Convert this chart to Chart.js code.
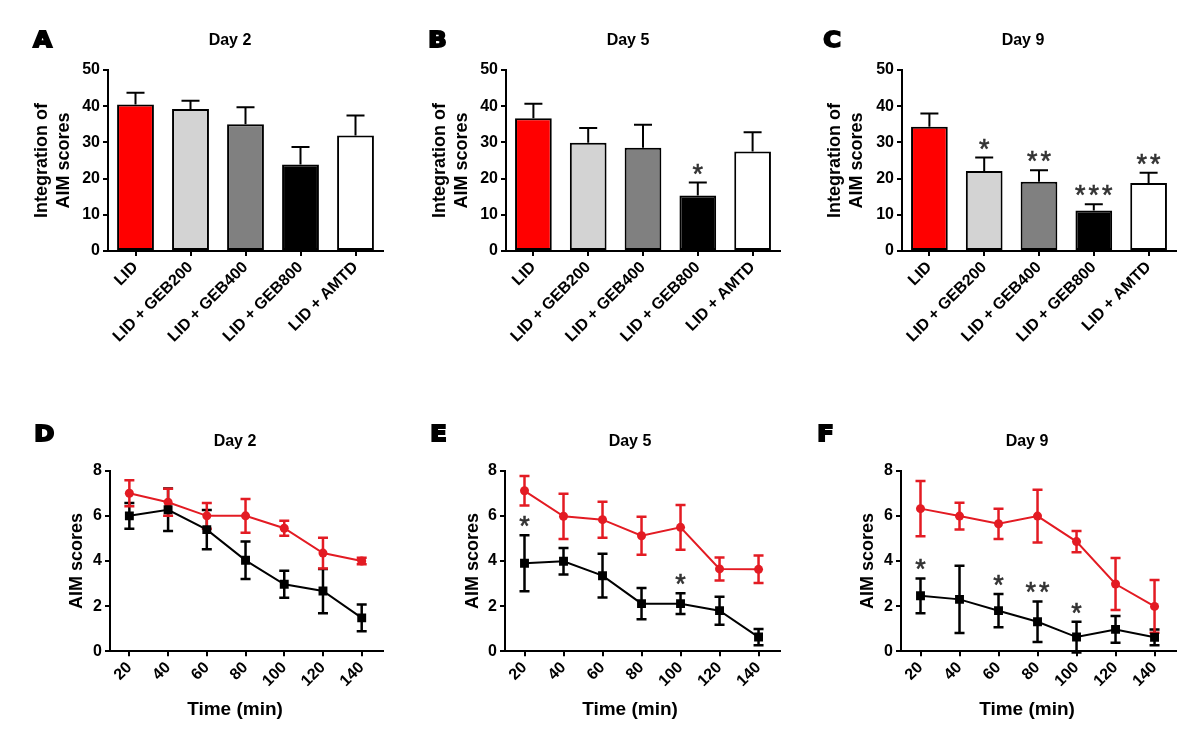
<!DOCTYPE html>
<html>
<head>
<meta charset="utf-8">
<title>AIM scores</title>
<script src="https://cdn.jsdelivr.net/npm/chart.js@4.4.1/dist/chart.umd.min.js"></script>
<style>
body { margin: 0; background: #fff; }
#wrap { position: relative; width: 1200px; height: 749px; overflow: hidden; background: #fff; }
canvas { position: absolute; }
</style>
</head>
<body>
<div id="wrap">
  <canvas id="panelA" width="400" height="380" style="left:0px;top:0px"></canvas>
  <canvas id="panelB" width="400" height="380" style="left:400px;top:0px"></canvas>
  <canvas id="panelC" width="400" height="380" style="left:800px;top:0px"></canvas>
  <canvas id="panelD" width="400" height="349" style="left:0px;top:400px"></canvas>
  <canvas id="panelE" width="400" height="349" style="left:400px;top:400px"></canvas>
  <canvas id="panelF" width="400" height="349" style="left:800px;top:400px"></canvas>
</div>
<script>
// Grupos de tratamiento (paneles A-C)
var groups = ['LID', 'LID + GEB200', 'LID + GEB400', 'LID + GEB800', 'LID + AMTD'];
var barColors = ['#ff0000', '#d3d3d3', '#808080', '#000000', '#ffffff'];

// Integración de AIM scores: media y error
var day2Means = [40.5, 39.2, 35.0, 23.9, 31.9];
var day2Sem   = [3.2, 2.3, 4.7, 4.8, 5.5];
var day2Stars = ['', '', '', '', ''];

var day5Means = [36.7, 29.9, 28.5, 15.3, 27.5];
var day5Sem   = [4.0, 4.1, 6.4, 3.6, 5.3];
var day5Stars = ['', '', '', '*', ''];

var day9Means = [34.3, 22.1, 19.1, 11.2, 18.8];
var day9Sem   = [3.7, 3.7, 3.2, 1.7, 2.8];
var day9Stars = ['', '*', '**', '***', '**'];

var barTicks = [0, 10, 20, 30, 40, 50];

// Curso temporal (paneles D-F)
var times = [20, 40, 60, 80, 100, 120, 140];
var lineTicksY = [0, 2, 4, 6, 8];

var d2Lid    = [7.0, 6.6, 6.0, 6.0, 5.45, 4.35, 4.0];
var d2LidSem = [0.58, 0.6, 0.57, 0.75, 0.33, 0.68, 0.14];
var d2Geb    = [6.0, 6.27, 5.39, 4.03, 2.97, 2.67, 1.48];
var d2GebSem = [0.57, 0.94, 0.87, 0.83, 0.6, 0.98, 0.59];
var d2Stars  = ['', '', '', '', '', '', ''];

var d5Lid    = [7.11, 5.98, 5.83, 5.12, 5.49, 3.65, 3.63];
var d5LidSem = [0.65, 1.0, 0.8, 0.84, 0.99, 0.51, 0.61];
var d5Geb    = [3.9, 3.99, 3.35, 2.11, 2.11, 1.8, 0.63];
var d5GebSem = [1.24, 0.59, 0.97, 0.69, 0.46, 0.62, 0.36];
var d5Stars  = ['*', '', '', '', '*', '', ''];

var d9Lid    = [6.32, 5.99, 5.65, 5.99, 4.86, 2.98, 1.99];
var d9LidSem = [1.22, 0.59, 0.67, 1.17, 0.47, 1.15, 1.17];
var d9Geb    = [2.46, 2.3, 1.8, 1.31, 0.63, 0.97, 0.62];
var d9GebSem = [0.77, 1.49, 0.74, 0.9, 0.68, 0.59, 0.35];
var d9Stars  = ['*', '', '*', '**', '*', '', ''];

var RED = '#e31b23';
var FONT = "'Liberation Sans', Arial, sans-serif";
Chart.defaults.font.family = FONT;
Chart.defaults.color = '#000';

// Barras de error (media + SEM); en barras solo hacia arriba
function drawErrors(chart, upOnly) {
  var y = chart.scales.y;
  var ctx = chart.ctx;
  chart.data.datasets.forEach(function(ds, i) {
    if (!ds.sem) return;
    var meta = chart.getDatasetMeta(i);
    ctx.save();
    ctx.strokeStyle = ds.errColor;
    ctx.lineWidth = ds.errWidth;
    meta.data.forEach(function(el, j) {
      var v = ds.data[j];
      if (typeof v === 'object') v = v.y;
      var top = y.getPixelForValue(v + ds.sem[j]);
      var bot = upOnly ? el.y : y.getPixelForValue(v - ds.sem[j]);
      var hw = ds.capHalf;
      ctx.beginPath();
      ctx.moveTo(el.x, top); ctx.lineTo(el.x, bot);
      ctx.moveTo(el.x - hw, top); ctx.lineTo(el.x + hw, top);
      if (!upOnly) { ctx.moveTo(el.x - hw, bot); ctx.lineTo(el.x + hw, bot); }
      ctx.stroke();
    });
    ctx.restore();
  });
}

// Asteriscos de significancia encima del error
function drawStars(chart) {
  var y = chart.scales.y;
  var ctx = chart.ctx;
  ctx.save();
  ctx.font = '27px ' + FONT;
  ctx.fillStyle = '#333';
  ctx.strokeStyle = '#333';
  ctx.lineWidth = 0.6;
  ctx.textAlign = 'center';
  ctx.textBaseline = 'alphabetic';
  var m = ctx.measureText('*');
  var mid = (m.actualBoundingBoxAscent - m.actualBoundingBoxDescent) / 2;
  chart.data.datasets.forEach(function(ds, i) {
    if (!ds.stars) return;
    var meta = chart.getDatasetMeta(i);
    meta.data.forEach(function(el, j) {
      var s = ds.stars[j];
      if (!s) return;
      var v = ds.data[j];
      if (typeof v === 'object') v = v.y;
      var cy = y.getPixelForValue(v + ds.sem[j]) - 14;
      for (var k = 0; k < s.length; k++) {
        var cx = el.x + (k - (s.length - 1) / 2) * 13.5;
        ctx.fillText('*', cx, cy + mid);
        ctx.strokeText('*', cx, cy + mid);
      }
    });
  });
  ctx.restore();
}

var errorPlugin = {
  id: 'errorBars',
  beforeDatasetsDraw: function(chart) {
    if (chart.config.type === 'line') drawErrors(chart, false);
  },
  afterDatasetsDraw: function(chart) {
    if (chart.config.type === 'bar') drawErrors(chart, true);
    drawStars(chart);
  }
};

// Letra del panel, título del día y título del eje x
var panelPlugin = {
  id: 'panelText',
  afterDraw: function(chart, args, opts) {
    var ctx = chart.ctx;
    ctx.save();
    ctx.fillStyle = '#000';
    ctx.strokeStyle = '#000';
    // letra
    ctx.save();
    ctx.translate(opts.letterX, opts.letterY);
    ctx.scale(1.15, 1);
    ctx.font = "bold 21px 'DejaVu Sans', sans-serif";
    ctx.textAlign = 'left';
    ctx.textBaseline = 'alphabetic';
    ctx.lineWidth = 1.8;
    ctx.lineJoin = 'miter';
    ctx.fillText(opts.letter, 1, 0);
    ctx.strokeText(opts.letter, 1, 0);
    ctx.restore();
    // título
    ctx.font = 'bold 16px ' + FONT;
    ctx.textAlign = 'center';
    ctx.textBaseline = 'alphabetic';
    ctx.fillText(opts.title, opts.titleX, opts.titleY);
    if (opts.xTitle) {
      ctx.font = 'bold 19px ' + FONT;
      ctx.textBaseline = 'middle';
      ctx.fillText(opts.xTitle, opts.xTitleX, opts.xTitleY);
    }
    ctx.restore();
  }
};

function axisGrid() {
  return { drawOnChartArea: false, drawTicks: true, tickLength: 5, color: '#000', lineWidth: 2 };
}

function barPanel(id, means, sem, stars, box) {
  var lh = 22.5;
  return new Chart(document.getElementById(id), {
    type: 'bar',
    data: {
      labels: groups,
      datasets: [{
        label: box.title,
        data: means,
        sem: sem,
        stars: stars,
        errColor: '#000',
        errWidth: 2,
        capHalf: 9,
        backgroundColor: barColors,
        borderColor: '#000',
        borderWidth: 2,
        borderSkipped: false,
        barPercentage: 0.67,
        categoryPercentage: 1
      }]
    },
    options: {
      responsive: false,
      animation: false,
      layout: { padding: { left: 20, right: 400 - box.right, top: 70, bottom: 0 } },
      plugins: {
        legend: { display: false },
        tooltip: { enabled: false },
        panelText: { letter: box.letter, letterX: box.letterX, letterY: 47, title: box.title, titleX: box.titleX, titleY: 45 }
      },
      scales: {
        x: {
          grid: Object.assign(axisGrid(), { offset: false }),
          border: { color: '#000', width: 2 },
          ticks: { minRotation: 45, maxRotation: 45, autoSkip: false, padding: 2, font: { size: 16, weight: 'bold' } },
          afterFit: function(s) { s.height = 380 - 251; }
        },
        y: {
          min: 0, max: 50,
          grid: axisGrid(),
          border: { color: '#000', width: 2 },
          afterBuildTicks: function(s) { s.ticks = barTicks.map(function(v) { return { value: v }; }); },
          ticks: { padding: 3, font: { size: 16, weight: 'bold' } },
          title: {
            display: true,
            text: ['Integration of', 'AIM scores'],
            font: { size: 18, weight: 'bold', lineHeight: lh / 18 },
            padding: { top: box.yTitle - 20 - lh / 2, bottom: 0 }
          },
          afterFit: function(s) { s.width = box.left - 20; }
        }
      }
    },
    plugins: [errorPlugin, panelPlugin]
  });
}

function linePanel(id, lid, lidSem, geb, gebSem, stars, box) {
  var lh = 21.6;
  return new Chart(document.getElementById(id), {
    type: 'line',
    data: {
      datasets: [{
        label: 'LID + GEB',
        data: times.map(function(t, i) { return { x: t, y: geb[i] }; }),
        sem: gebSem,
        stars: stars,
        errColor: '#000',
        errWidth: 2.5,
        capHalf: 5,
        borderColor: '#000',
        backgroundColor: '#000',
        borderWidth: 2,
        pointStyle: 'rect',
        pointRadius: 6.3,
        pointBorderWidth: 0,
        tension: 0
      }, {
        label: 'LID',
        data: times.map(function(t, i) { return { x: t, y: lid[i] }; }),
        sem: lidSem,
        errColor: RED,
        errWidth: 2.5,
        capHalf: 5,
        borderColor: RED,
        backgroundColor: RED,
        borderWidth: 2,
        pointStyle: 'circle',
        pointRadius: 4.5,
        pointBorderWidth: 0,
        tension: 0
      }]
    },
    options: {
      responsive: false,
      animation: false,
      layout: { padding: { left: 20, right: 400 - box.right, top: 70.7, bottom: 0 } },
      plugins: {
        legend: { display: false },
        tooltip: { enabled: false },
        panelText: {
          letter: box.letter, letterX: box.letterX, letterY: 41,
          title: box.title, titleX: box.titleX, titleY: 46,
          xTitle: 'Time (min)', xTitleX: box.xTitleX, xTitleY: 310
        }
      },
      scales: {
        x: {
          type: 'linear',
          min: 10, max: 151,
          grid: axisGrid(),
          border: { color: '#000', width: 2 },
          afterBuildTicks: function(s) { s.ticks = times.map(function(v) { return { value: v }; }); },
          ticks: { minRotation: 45, maxRotation: 45, autoSkip: false, padding: 2, font: { size: 16, weight: 'bold' } },
          afterFit: function(s) { s.height = 349 - 251.3; }
        },
        y: {
          min: 0, max: 8,
          grid: axisGrid(),
          border: { color: '#000', width: 2 },
          afterBuildTicks: function(s) { s.ticks = lineTicksY.map(function(v) { return { value: v }; }); },
          ticks: { padding: 3, font: { size: 16, weight: 'bold' } },
          title: {
            display: true,
            text: 'AIM scores',
            font: { size: 18, weight: 'bold', lineHeight: 1.2 },
            padding: { top: box.yTitle - 20 - lh / 2, bottom: 0 }
          },
          afterFit: function(s) { s.width = box.left - 20; }
        }
      }
    },
    plugins: [errorPlugin, panelPlugin]
  });
}

barPanel('panelA', day2Means, day2Sem, day2Stars, { letter: 'A', letterX: 32, title: 'Day 2', titleX: 230, left: 108, right: 383, yTitle: 42 });
barPanel('panelB', day5Means, day5Sem, day5Stars, { letter: 'B', letterX: 27, title: 'Day 5', titleX: 228, left: 106, right: 380, yTitle: 40 });
barPanel('panelC', day9Means, day9Sem, day9Stars, { letter: 'C', letterX: 22, title: 'Day 9', titleX: 223, left: 102, right: 376, yTitle: 35 });

linePanel('panelD', d2Lid, d2LidSem, d2Geb, d2GebSem, d2Stars, { letter: 'D', letterX: 33, title: 'Day 2', titleX: 235, xTitleX: 235, left: 110, right: 383, yTitle: 77 });
linePanel('panelE', d5Lid, d5LidSem, d5Geb, d5GebSem, d5Stars, { letter: 'E', letterX: 29, title: 'Day 5', titleX: 230, xTitleX: 230, left: 105, right: 380, yTitle: 73 });
linePanel('panelF', d9Lid, d9LidSem, d9Geb, d9GebSem, d9Stars, { letter: 'F', letterX: 16, title: 'Day 9', titleX: 227, xTitleX: 227, left: 101, right: 376, yTitle: 68 });
</script>
</body>
</html>
